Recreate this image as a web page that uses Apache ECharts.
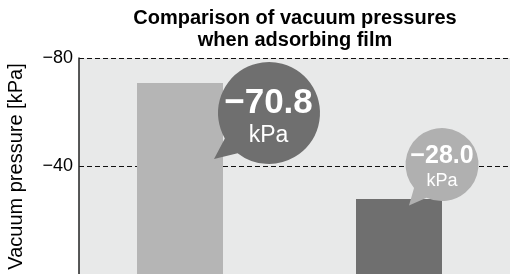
<!DOCTYPE html>
<html><head><meta charset="utf-8">
<script src="https://cdn.jsdelivr.net/npm/echarts@6/dist/echarts.min.js"></script>
<style>html,body{margin:0;padding:0;background:#fff}#c{width:510px;height:274px}</style>
</head><body><div id="c"></div>
<script>
// ---- data ----
const titleText = 'Comparison of vacuum pressures\nwhen adsorbing film';
const yAxisName = 'Vacuum pressure [kPa]';
const categories = ['Item 1', 'Item 2'];
const pressures = [-70.8, -28.0];
const unitLabel = 'kPa';
const yTickValues = [-80, -40, 0];
const yTickLabels = ['\u221280', '\u221240', ''];

// ---- styles ----
const FONT = '"Liberation Sans", Arial, Helvetica, sans-serif';
const barColors = ['#b5b5b5', '#6f6f6f'];
const bubbleColors = ['#6f6f6f', '#b0b0b0'];
const bubbleStyles = [
  {r: 51, a1: 150, a2: 128, tip: [-55, 46], center: [80.5, 30.0], text: [-0.5, 5.5], v: 35, vLH: 34, u: 23, uLH: 31},
  {r: 36.5, a1: 140, a2: 115, tip: [-33, 41], center: [34.5, -34.5], text: [0, 4], v: 25, vLH: 25, u: 18, uLH: 24}
];

function bubble(s) {
  const rad = Math.PI / 180;
  const ax = s.r * Math.cos(s.a1 * rad), ay = s.r * Math.sin(s.a1 * rad);
  const bx = s.r * Math.cos(s.a2 * rad), by = s.r * Math.sin(s.a2 * rad);
  const path = 'path://M' + s.tip[0] + ' ' + s.tip[1] + 'L' + ax.toFixed(2) + ' ' + ay.toFixed(2) +
    'A' + s.r + ' ' + s.r + ' 0 1 1 ' + bx.toFixed(2) + ' ' + by.toFixed(2) + 'Z';
  const xmin = Math.min(-s.r, s.tip[0]), xmax = s.r, ymin = -s.r, ymax = Math.max(s.r, s.tip[1]);
  const bc = [(xmin + xmax) / 2, (ymin + ymax) / 2];
  return {
    path: path,
    size: [xmax - xmin, ymax - ymin],
    offset: [s.center[0] + bc[0], s.center[1] + bc[1]],
    labelOffset: [s.text[0] - bc[0], s.text[1] - bc[1]]
  };
}

const chart = echarts.init(document.getElementById('c'), null, {renderer: 'canvas'});
chart.setOption({
  animation: false,
  textStyle: {fontFamily: FONT},
  graphic: [{
    type: 'text', x: 295, y: 7, silent: true,
    style: {text: titleText, fontFamily: FONT, fontSize: 20, fontWeight: 'bold', fill: '#000',
      align: 'center', textAlign: 'center', verticalAlign: 'top', textVerticalAlign: 'top', lineHeight: 22}
  }],
  grid: {left: 79, top: 58, width: 438, bottom: -1, show: true, backgroundColor: '#e8e9e9', borderWidth: 0,
    containLabel: false, outerBoundsMode: 'none'},
  xAxis: {type: 'category', data: categories, show: false, boundaryGap: true},
  yAxis: {
    type: 'value', inverse: true, min: -80, max: 0, interval: 40,
    name: yAxisName, nameLocation: 'middle', nameGap: 53, nameRotate: 90,
    nameTextStyle: {fontSize: 20, color: '#000', fontFamily: FONT},
    axisLine: {show: true, lineStyle: {color: '#222', width: 1.5}},
    axisTick: {show: false},
    axisLabel: {fontSize: 18, color: '#000', margin: 6, fontFamily: FONT,
      formatter: function (v) { const i = yTickValues.indexOf(v); return i >= 0 ? yTickLabels[i] : ''; }},
    splitLine: {show: true, lineStyle: {color: '#111', width: 1, type: [5, 3]}}
  },
  series: [
    {
      type: 'bar', barWidth: 86, barGap: '0%', silent: true,
      data: pressures.map(function (v, i) { return {value: v, itemStyle: {color: barColors[i]}}; })
    },
    {type: 'bar', barWidth: 17, barGap: '0%', silent: true, data: []},
    {
      type: 'scatter', silent: true, z: 5,
      data: pressures.map(function (v, i) {
        const s = bubbleStyles[i], b = bubble(s);
        return {
          value: [i, v], symbol: b.path, symbolSize: b.size, symbolOffset: b.offset,
          itemStyle: {color: bubbleColors[i], opacity: 1},
          label: {
            show: true, position: 'inside', offset: b.labelOffset, align: 'center',
            formatter: '{v|\u2212' + Math.abs(v).toFixed(1) + '}\n{u|' + unitLabel + '}',
            rich: {
              v: {fontSize: s.v, fontWeight: 'bold', color: '#fff', lineHeight: s.vLH, fontFamily: FONT, align: 'center'},
              u: {fontSize: s.u, color: '#fff', lineHeight: s.uLH, fontFamily: FONT, align: 'center'}
            }
          }
        };
      })
    }
  ]
});
</script></body></html>
